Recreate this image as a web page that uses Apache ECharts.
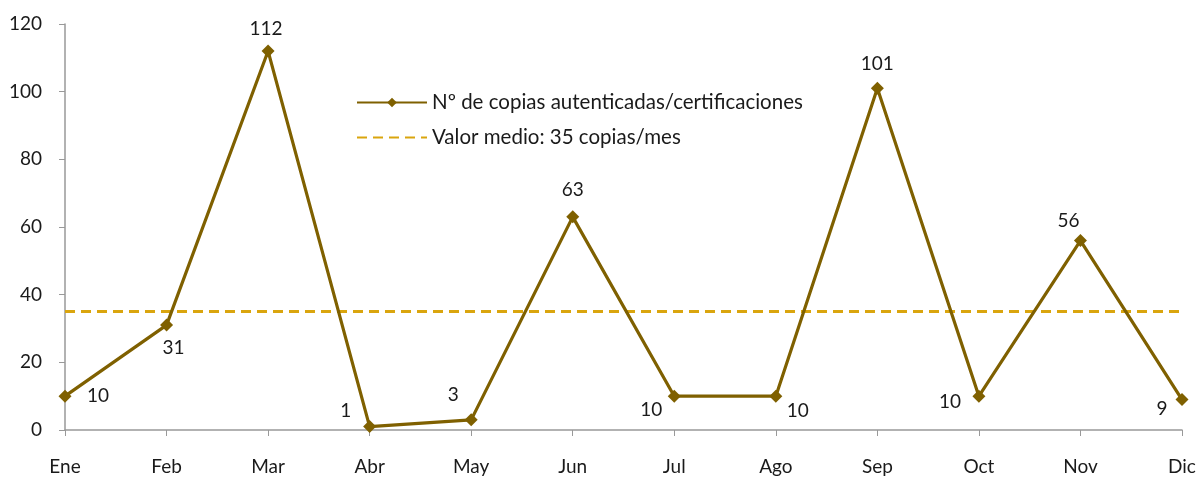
<!DOCTYPE html>
<html><head><meta charset="utf-8">
<script src="https://cdn.jsdelivr.net/npm/echarts@6/dist/echarts.min.js"></script>
<style>html,body{margin:0;padding:0;background:#fff}#c{width:1199px;height:478px}</style>
</head><body><div id="c"></div>
<script>
var months = ['Ene','Feb','Mar','Abr','May','Jun','Jul','Ago','Sep','Oct','Nov','Dic'];
var copies = [10,31,112,1,3,63,10,10,101,10,56,9];
var meanValue = 35;
var seriesName = 'Nº de copias autenticadas/certificaciones';
var meanName = 'Valor medio: 35 copias/mes';

var labelOffsets = [[33,0],[7,23],[-2,-22],[-24,-16],[-18,-25],[0,-27],[-23,14],[22,15],[0,-24],[-29,6],[-12,-20],[-20,9]];
var FONT = 'Lato, "Open Sans", sans-serif';
var chart = echarts.init(document.getElementById('c'));
chart.setOption({
  animation: false,
  textStyle: {fontFamily: FONT},
  grid: {left: 65, right: 17, top: 24, bottom: 48},
  legend: {
    orient: 'vertical', left: 356, top: 92, itemWidth: 70, itemHeight: 12, itemGap: 14, padding: 0,
    textStyle: {fontSize: 20.5, color: '#1a1a1a', fontFamily: FONT},
    data: [{name: seriesName}, {name: meanName, itemStyle: {opacity: 0}}]
  },
  xAxis: {
    type: 'category', boundaryGap: false, data: months,
    axisLine: {lineStyle: {color: '#999', width: 1.5}},
    axisTick: {show: true, alignWithLabel: true, length: 6, lineStyle: {color: '#999'}},
    axisLabel: {fontSize: 19, color: '#1a1a1a', margin: 27, fontFamily: FONT},
    splitLine: {show: false}
  },
  yAxis: {
    type: 'value', min: 0, max: 120, interval: 20,
    axisLine: {show: true, lineStyle: {color: '#999', width: 1.5}},
    axisTick: {show: true, length: 6, lineStyle: {color: '#999'}},
    axisLabel: {fontSize: 19, color: '#1a1a1a', margin: 23, fontFamily: FONT},
    splitLine: {show: false}
  },
  series: [
    {
      name: seriesName, type: 'line', z: 3,
      data: copies.map(function(v, i){
        return {value: v, label: {offset: labelOffsets[i]}};
      }),
      symbol: 'diamond', symbolSize: 13,
      lineStyle: {color: '#7F6000', width: 3.2},
      itemStyle: {color: '#7F6000'},
      label: {show: true, position: 'inside', align: 'center', verticalAlign: 'middle',
        fontSize: 19, color: '#1a1a1a', fontFamily: FONT}
    },
    {
      name: meanName, type: 'line', z: 2,
      data: months.map(function(){ return meanValue; }),
      symbol: 'none', showSymbol: false,
      lineStyle: {color: '#DAA50E', width: 3, type: [10, 6]},
      itemStyle: {color: '#DAA50E'}
    }
  ]
});
</script></body></html>
